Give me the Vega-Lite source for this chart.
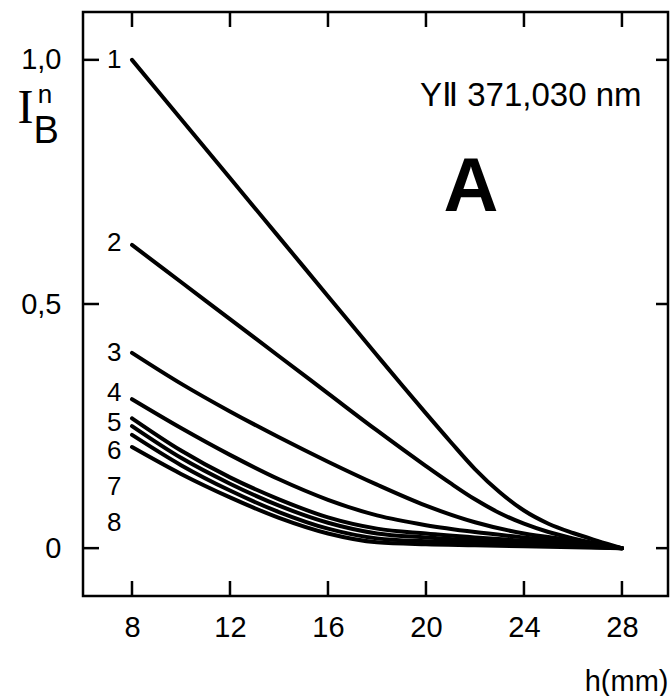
{
  "$schema": "https://vega.github.io/schema/vega-lite/v6.json",
  "width": 585,
  "height": 584,
  "autosize": {"type": "none"},
  "padding": {"left": 83, "top": 12, "right": 4, "bottom": 100},
  "background": "white",
  "config": {
    "view": {"stroke": "black", "strokeWidth": 2.5},
    "font": "Liberation Sans"
  },
  "datasets": {
    "curves": [
      {"curve": "1", "h": 8, "I": 1.0}, {"curve": "1", "h": 10, "I": 0.879}, {"curve": "1", "h": 12, "I": 0.758}, {"curve": "1", "h": 14, "I": 0.637}, {"curve": "1", "h": 16, "I": 0.516}, {"curve": "1", "h": 18, "I": 0.395}, {"curve": "1", "h": 19, "I": 0.335}, {"curve": "1", "h": 20, "I": 0.276}, {"curve": "1", "h": 21, "I": 0.218}, {"curve": "1", "h": 22, "I": 0.162}, {"curve": "1", "h": 23, "I": 0.115}, {"curve": "1", "h": 24, "I": 0.077}, {"curve": "1", "h": 25, "I": 0.05}, {"curve": "1", "h": 26, "I": 0.031}, {"curve": "1", "h": 27, "I": 0.015}, {"curve": "1", "h": 28, "I": 0.0},
      {"curve": "2", "h": 8, "I": 0.621}, {"curve": "2", "h": 10, "I": 0.545}, {"curve": "2", "h": 12, "I": 0.469}, {"curve": "2", "h": 14, "I": 0.393}, {"curve": "2", "h": 16, "I": 0.317}, {"curve": "2", "h": 18, "I": 0.241}, {"curve": "2", "h": 20, "I": 0.168}, {"curve": "2", "h": 21, "I": 0.133}, {"curve": "2", "h": 22, "I": 0.1}, {"curve": "2", "h": 23, "I": 0.072}, {"curve": "2", "h": 24, "I": 0.05}, {"curve": "2", "h": 25, "I": 0.033}, {"curve": "2", "h": 26, "I": 0.02}, {"curve": "2", "h": 27, "I": 0.009}, {"curve": "2", "h": 28, "I": 0.0},
      {"curve": "3", "h": 8, "I": 0.40}, {"curve": "3", "h": 10, "I": 0.337}, {"curve": "3", "h": 12, "I": 0.28}, {"curve": "3", "h": 14, "I": 0.227}, {"curve": "3", "h": 16, "I": 0.177}, {"curve": "3", "h": 18, "I": 0.13}, {"curve": "3", "h": 20, "I": 0.087}, {"curve": "3", "h": 22, "I": 0.053}, {"curve": "3", "h": 24, "I": 0.03}, {"curve": "3", "h": 26, "I": 0.016}, {"curve": "3", "h": 28, "I": 0.0},
      {"curve": "4", "h": 8, "I": 0.305}, {"curve": "4", "h": 10, "I": 0.246}, {"curve": "4", "h": 12, "I": 0.191}, {"curve": "4", "h": 14, "I": 0.141}, {"curve": "4", "h": 16, "I": 0.099}, {"curve": "4", "h": 18, "I": 0.067}, {"curve": "4", "h": 20, "I": 0.047}, {"curve": "4", "h": 22, "I": 0.033}, {"curve": "4", "h": 24, "I": 0.022}, {"curve": "4", "h": 26, "I": 0.011}, {"curve": "4", "h": 28, "I": 0.0},
      {"curve": "5", "h": 8, "I": 0.266}, {"curve": "5", "h": 10, "I": 0.2}, {"curve": "5", "h": 12, "I": 0.145}, {"curve": "5", "h": 14, "I": 0.1}, {"curve": "5", "h": 16, "I": 0.063}, {"curve": "5", "h": 18, "I": 0.04}, {"curve": "5", "h": 20, "I": 0.03}, {"curve": "5", "h": 22, "I": 0.022}, {"curve": "5", "h": 24, "I": 0.015}, {"curve": "5", "h": 26, "I": 0.008}, {"curve": "5", "h": 28, "I": 0.0},
      {"curve": "6", "h": 8, "I": 0.25}, {"curve": "6", "h": 10, "I": 0.185}, {"curve": "6", "h": 12, "I": 0.132}, {"curve": "6", "h": 14, "I": 0.087}, {"curve": "6", "h": 16, "I": 0.052}, {"curve": "6", "h": 18, "I": 0.03}, {"curve": "6", "h": 20, "I": 0.022}, {"curve": "6", "h": 22, "I": 0.016}, {"curve": "6", "h": 24, "I": 0.011}, {"curve": "6", "h": 26, "I": 0.006}, {"curve": "6", "h": 28, "I": 0.0},
      {"curve": "7", "h": 8, "I": 0.232}, {"curve": "7", "h": 10, "I": 0.17}, {"curve": "7", "h": 12, "I": 0.118}, {"curve": "7", "h": 14, "I": 0.074}, {"curve": "7", "h": 16, "I": 0.04}, {"curve": "7", "h": 18, "I": 0.02}, {"curve": "7", "h": 20, "I": 0.014}, {"curve": "7", "h": 22, "I": 0.011}, {"curve": "7", "h": 24, "I": 0.008}, {"curve": "7", "h": 26, "I": 0.004}, {"curve": "7", "h": 28, "I": 0.0},
      {"curve": "8", "h": 8, "I": 0.207}, {"curve": "8", "h": 10, "I": 0.152}, {"curve": "8", "h": 12, "I": 0.104}, {"curve": "8", "h": 14, "I": 0.062}, {"curve": "8", "h": 16, "I": 0.03}, {"curve": "8", "h": 18, "I": 0.012}, {"curve": "8", "h": 20, "I": 0.008}, {"curve": "8", "h": 22, "I": 0.006}, {"curve": "8", "h": 24, "I": 0.004}, {"curve": "8", "h": 26, "I": 0.002}, {"curve": "8", "h": 28, "I": 0.0}
    ],
    "labels": [
      {"curve": "1", "I": 1.0}, {"curve": "2", "I": 0.625}, {"curve": "3", "I": 0.40}, {"curve": "4", "I": 0.317},
      {"curve": "5", "I": 0.257}, {"curve": "6", "I": 0.199}, {"curve": "7", "I": 0.125}, {"curve": "8", "I": 0.051}
    ],
    "xticks": [{"t": 8}, {"t": 12}, {"t": 16}, {"t": 20}, {"t": 24}, {"t": 28}],
    "yticks": [{"t": 0}, {"t": 0.5}, {"t": 1}]
  },
  "layer": [
    {
      "data": {"name": "curves"},
      "mark": {"type": "line", "color": "black", "strokeWidth": 4, "interpolate": "monotone", "strokeCap": "round", "strokeJoin": "round"},
      "encoding": {
        "x": {
          "field": "h", "type": "quantitative",
          "scale": {"domain": [6, 29.88], "nice": false, "zero": false},
          "axis": {
            "orient": "bottom", "offset": -15, "values": [8, 12, 16, 20, 24, 28], "domain": false, "grid": false,
            "tickSize": 15, "tickWidth": 2.5, "tickColor": "black", "tickOpacity": 0,
            "labelFontSize": 29, "labelColor": "black", "labelPadding": 17, "labelFlush": false, "labelFont": "Liberation Sans",
            "title": "h(mm)", "titleFont": "Liberation Sans", "titleFontSize": 29, "titleFontWeight": "normal", "titleColor": "black",
            "titleAnchor": "end", "titleAlign": "right", "titleBaseline": "alphabetic", "titleX": 585, "titleY": 109
          }
        },
        "y": {
          "field": "I", "type": "quantitative",
          "scale": {"domain": [-0.098, 1.098], "nice": false, "zero": false},
          "axis": {
            "orient": "left", "offset": -16, "values": [0, 0.5, 1], "domain": false, "grid": false,
            "tickSize": 16, "tickWidth": 2.5, "tickColor": "black", "tickOpacity": 0,
            "labelExpr": "datum.value == 0 ? '0' : replace(format(datum.value, '.1f'), '.', ',')",
            "labelFontSize": 29, "labelColor": "black", "labelPadding": 22, "labelFlush": false, "labelFont": "Liberation Sans",
            "title": "I", "titleFont": "Liberation Serif", "titleFontSize": 48, "titleFontWeight": "normal", "titleColor": "black",
            "titleAngle": 0, "titleAlign": "center", "titleBaseline": "alphabetic", "titleX": -74, "titleY": 110
          }
        },
        "detail": {"field": "curve"}
      }
    },
    {
      "data": {"name": "labels"},
      "mark": {"type": "text", "fontSize": 26, "align": "center", "baseline": "middle", "color": "black", "font": "Liberation Sans"},
      "encoding": {
        "x": {"datum": 7.27, "type": "quantitative", "axis": null},
        "y": {"field": "I", "type": "quantitative", "axis": null},
        "text": {"field": "curve"}
      }
    },
    {
      "data": {"name": "xticks"},
      "mark": {"type": "rule", "color": "black", "strokeWidth": 2.5},
      "encoding": {
        "x": {"field": "t", "type": "quantitative", "axis": null},
        "y": {"datum": -0.098, "type": "quantitative", "axis": null},
        "y2": {"datum": -0.0673}
      }
    },
    {
      "data": {"name": "xticks"},
      "mark": {"type": "rule", "color": "black", "strokeWidth": 2.5},
      "encoding": {
        "x": {"field": "t", "type": "quantitative", "axis": null},
        "y": {"datum": 1.098, "type": "quantitative", "axis": null},
        "y2": {"datum": 1.0673}
      }
    },
    {
      "data": {"name": "yticks"},
      "mark": {"type": "rule", "color": "black", "strokeWidth": 2.5},
      "encoding": {
        "y": {"field": "t", "type": "quantitative", "axis": null},
        "x": {"datum": 6, "type": "quantitative", "axis": null},
        "x2": {"datum": 6.653}
      }
    },
    {
      "data": {"name": "yticks"},
      "mark": {"type": "rule", "color": "black", "strokeWidth": 2.5},
      "encoding": {
        "y": {"field": "t", "type": "quantitative", "axis": null},
        "x": {"datum": 29.88, "type": "quantitative", "axis": null},
        "x2": {"datum": 29.39}
      }
    },
    {
      "data": {"values": [{}]},
      "mark": {"type": "text", "fontSize": 26, "align": "center", "baseline": "alphabetic", "color": "black", "font": "Liberation Sans"},
      "encoding": {"x": {"datum": 4.45, "type": "quantitative", "axis": null}, "y": {"datum": 0.912, "type": "quantitative", "axis": null}, "text": {"value": "n"}}
    },
    {
      "data": {"values": [{}]},
      "mark": {"type": "text", "fontSize": 38, "align": "center", "baseline": "alphabetic", "color": "black", "font": "Liberation Sans"},
      "encoding": {"x": {"datum": 4.5, "type": "quantitative", "axis": null}, "y": {"datum": 0.83, "type": "quantitative", "axis": null}, "text": {"value": "B"}}
    },
    {
      "data": {"values": [{}]},
      "mark": {"type": "text", "fontSize": 33, "align": "left", "baseline": "middle", "color": "black", "font": "Liberation Sans"},
      "encoding": {"x": {"datum": 19.76, "type": "quantitative", "axis": null}, "y": {"datum": 0.925, "type": "quantitative", "axis": null}, "text": {"value": "YⅡ 371,030 nm"}}
    },
    {
      "data": {"values": [{}]},
      "mark": {"type": "text", "fontSize": 76, "fontWeight": "bold", "align": "center", "baseline": "middle", "color": "black", "font": "Liberation Sans"},
      "encoding": {"x": {"datum": 21.84, "type": "quantitative", "axis": null}, "y": {"datum": 0.738, "type": "quantitative", "axis": null}, "text": {"value": "A"}}
    }
  ],
  "resolve": {"axis": {"x": "independent", "y": "independent"}}
}
